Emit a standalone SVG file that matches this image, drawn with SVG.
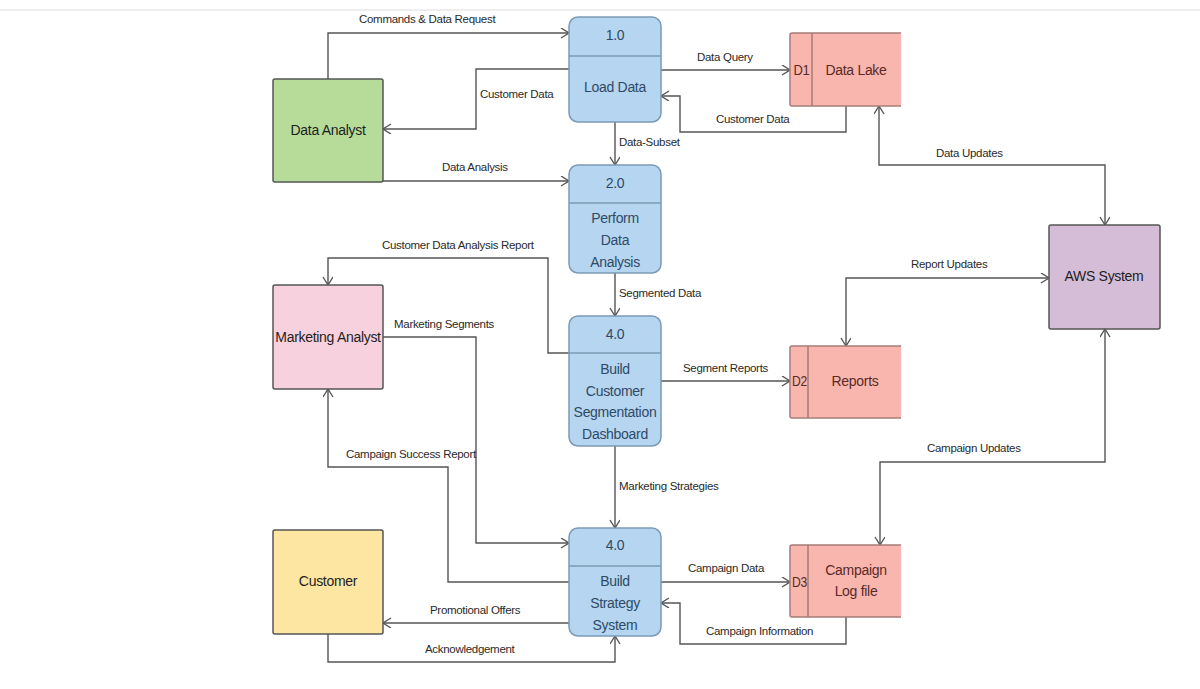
<svg xmlns="http://www.w3.org/2000/svg" width="1200" height="689" viewBox="0 0 1200 689">
<style>
text{font-family:"Liberation Sans",Arial,sans-serif}
.lbl{font-size:11.5px;fill:#2a2a2a;letter-spacing:-0.3px}
.ent{stroke:#555;stroke-width:1.5}
.ntxt{font-size:14px;fill:#1e1e1e;text-anchor:middle;letter-spacing:-0.3px}
.proc{fill:#b5d5f0;stroke:#7c9ab5;stroke-width:1.5}
.ptxt{font-size:14px;fill:#2f4a66;text-anchor:middle;letter-spacing:-0.3px}
.store{fill:#f8b6ae}
.sline{stroke:#a57c77;stroke-width:1.5;fill:none}
.stxt{font-size:14px;fill:#5a2a26;text-anchor:middle;letter-spacing:-0.3px}
.c{fill:none;stroke:#555;stroke-width:1.4}
.a{marker-end:url(#arr)}
.b{marker-start:url(#arr);marker-end:url(#arr)}
</style>
<defs>
<marker id="arr" markerUnits="userSpaceOnUse" markerWidth="12" markerHeight="12" refX="9" refY="5" orient="auto-start-reverse" viewBox="0 0 12 12">
<path d="M1,0 L9,5 L1,10" fill="none" stroke="#555" stroke-width="1.4"/>
</marker>
</defs>
<rect width="1200" height="689" fill="#fff"/>
<line x1="0" y1="10" x2="1200" y2="10" stroke="#ddd" stroke-width="1"/>

<g id="connectors">
<path class="c a" d="M328,79 V33 H569"/>
<path class="c a" d="M569,69 H476 V129 H383"/>
<path class="c a" d="M383,181 H569"/>
<path class="c a" d="M615,122 V165"/>
<path class="c a" d="M661,70 H790"/>
<path class="c a" d="M846,106 V132 H680 V96 H661"/>
<path class="c b" d="M879,106 V165 H1105 V225"/>
<path class="c a" d="M615,273 V316"/>
<path class="c a" d="M661,381 H790"/>
<path class="c b" d="M846,346 V278 H1049"/>
<path class="c b" d="M1105,329 V462 H880 V545"/>
<path class="c a" d="M569,353 H548 V258 H328 V285"/>
<path class="c a" d="M383,337 H476 V543 H569"/>
<path class="c a" d="M569,582 H448 V467 H328 V389"/>
<path class="c a" d="M615,446 V528"/>
<path class="c a" d="M661,582 H790"/>
<path class="c a" d="M846,617 V644 H680 V603 H661"/>
<path class="c a" d="M569,623 H383"/>
<path class="c a" d="M328,634 V662 H615 V636"/>
</g>

<g id="connector-labels">
<text class="lbl" x="359" y="23">Commands &amp; Data Request</text>
<text class="lbl" x="480" y="98">Customer Data</text>
<text class="lbl" x="442" y="171">Data Analysis</text>
<text class="lbl" x="619" y="146">Data-Subset</text>
<text class="lbl" x="697" y="61">Data Query</text>
<text class="lbl" x="716" y="123">Customer Data</text>
<text class="lbl" x="936" y="157">Data Updates</text>
<text class="lbl" x="619" y="297">Segmented Data</text>
<text class="lbl" x="683" y="372">Segment Reports</text>
<text class="lbl" x="911" y="268">Report Updates</text>
<text class="lbl" x="927" y="452">Campaign Updates</text>
<text class="lbl" x="382" y="249">Customer Data Analysis Report</text>
<text class="lbl" x="394" y="328">Marketing Segments</text>
<text class="lbl" x="346" y="458">Campaign Success Report</text>
<text class="lbl" x="619" y="490">Marketing Strategies</text>
<text class="lbl" x="688" y="572">Campaign Data</text>
<text class="lbl" x="706" y="635">Campaign Information</text>
<text class="lbl" x="430" y="614">Promotional Offers</text>
<text class="lbl" x="425" y="653">Acknowledgement</text>
</g>

<g id="data-analyst">
<rect class="ent" x="273" y="79" width="110" height="103" rx="2" fill="#b7dc9a"/>
<text class="ntxt" x="328" y="135">Data Analyst</text>
</g>
<g id="marketing-analyst">
<rect class="ent" x="273" y="285" width="110" height="104" rx="2" fill="#f7d1dd"/>
<text class="ntxt" x="328" y="342">Marketing Analyst</text>
</g>
<g id="customer">
<rect class="ent" x="273" y="530" width="110" height="104" rx="2" fill="#fce6a2"/>
<text class="ntxt" x="328" y="586">Customer</text>
</g>
<g id="aws-system">
<rect class="ent" x="1049" y="225" width="111" height="104" rx="2" fill="#d6bdd7"/>
<text class="ntxt" x="1104" y="281">AWS System</text>
</g>

<g id="p1">
<rect class="proc" x="569" y="17" width="92" height="105" rx="9"/>
<line x1="569" y1="56" x2="661" y2="56" stroke="#7c9ab5" stroke-width="1.5"/>
<text class="ptxt" x="615" y="40">1.0</text>
<text class="ptxt" x="615" y="92">Load Data</text>
</g>
<g id="p2">
<rect class="proc" x="569" y="165" width="92" height="108" rx="9"/>
<line x1="569" y1="203" x2="661" y2="203" stroke="#7c9ab5" stroke-width="1.5"/>
<text class="ptxt" x="615" y="188">2.0</text>
<text class="ptxt" x="615" y="223">Perform</text>
<text class="ptxt" x="615" y="245">Data</text>
<text class="ptxt" x="615" y="267">Analysis</text>
</g>
<g id="p4a">
<rect class="proc" x="569" y="316" width="92" height="130" rx="9"/>
<line x1="569" y1="353" x2="661" y2="353" stroke="#7c9ab5" stroke-width="1.5"/>
<text class="ptxt" x="615" y="339">4.0</text>
<text class="ptxt" x="615" y="374">Build</text>
<text class="ptxt" x="615" y="396">Customer</text>
<text class="ptxt" x="615" y="417">Segmentation</text>
<text class="ptxt" x="615" y="439">Dashboard</text>
</g>
<g id="p4b">
<rect class="proc" x="569" y="528" width="92" height="108" rx="9"/>
<line x1="569" y1="566" x2="661" y2="566" stroke="#7c9ab5" stroke-width="1.5"/>
<text class="ptxt" x="615" y="550">4.0</text>
<text class="ptxt" x="615" y="586">Build</text>
<text class="ptxt" x="615" y="608">Strategy</text>
<text class="ptxt" x="615" y="630">System</text>
</g>

<g id="d1">
<rect class="store" x="790" y="33" width="111" height="73"/>
<path class="sline" d="M901,33 H792 Q790,33 790,35 V104 Q790,106 792,106 H901 M812,33 V106"/>
<text class="stxt" x="801.5" y="75" textLength="16" lengthAdjust="spacingAndGlyphs">D1</text>
<text class="stxt" x="856" y="75">Data Lake</text>
</g>
<g id="d2">
<rect class="store" x="790" y="346" width="111" height="72"/>
<path class="sline" d="M901,346 H792 Q790,346 790,348 V416 Q790,418 792,418 H901 M808,346 V418"/>
<text class="stxt" x="799.5" y="386" textLength="15" lengthAdjust="spacingAndGlyphs">D2</text>
<text class="stxt" x="855" y="386">Reports</text>
</g>
<g id="d3">
<rect class="store" x="790" y="545" width="111" height="72"/>
<path class="sline" d="M901,545 H792 Q790,545 790,547 V615 Q790,617 792,617 H901 M808,545 V617"/>
<text class="stxt" x="799.5" y="587" textLength="15" lengthAdjust="spacingAndGlyphs">D3</text>
<text class="stxt" x="856" y="575">Campaign</text>
<text class="stxt" x="856" y="596">Log file</text>
</g>
</svg>
